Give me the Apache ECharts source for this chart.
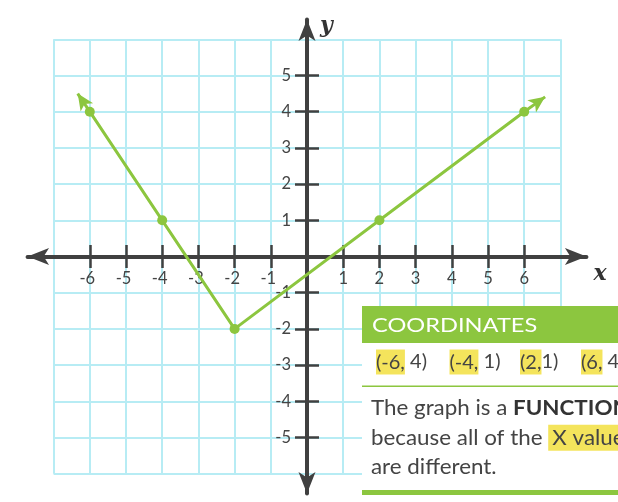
<!DOCTYPE html>
<html>
<head>
<meta charset="utf-8">
<script src="https://cdn.jsdelivr.net/npm/echarts@6/dist/echarts.min.js"></script>
<style>
html,body{margin:0;padding:0;background:#ffffff;}
#c{width:618px;height:502px;}
</style>
</head>
<body>
<div id="c"></div>
<script>
// ---- data ----
const xTicks = [-6, -5, -4, -3, -2, -1, 1, 2, 3, 4, 5, 6];
const yTicks = [-5, -4, -3, -2, -1, 1, 2, 3, 4, 5];
const gridX = [-7, 7];
const gridY = [-6, 6];
const pointsX = [-6, -4, -2, 2, 6];
const pointsY = [4, 1, -2, 1, 4];
const arrowFrom = [[-6, 4], [6, 4]];
const arrowTo = [[-6.334, 4.50], [6.578, 4.41]];
const coordLabels = ['(-6, 4)', '(-4, 1)', '(2,1)', '(6, 4)'];
const axisNames = ['x', 'y'];

// ---- layout ----
const U = 36.2, OX = 307, OY = 256.5;
const XE = 7.72, YE = 6.55;
const GREEN = '#8cc63f', AXIS = '#404040', TEXT = '#444444', BLUE = '#b7ecf4', YELLOW = '#f4e45c';

const chart = echarts.init(document.getElementById('c'), null, {renderer: 'canvas'});

const tickStyle = {color: AXIS, width: 2.5};
const labelStyle = {color: TEXT, fontFamily: 'Lato', fontSize: 16.5};
const nameStyle = {color: '#333', fontFamily: 'DejaVu Serif', fontWeight: 'bold', fontStyle: 'italic', fontSize: 22};

const coordX = [376, 449.5, 520, 581];
const coordGraphics = coordLabels.map(function (s, i) {
  const k = s.indexOf(',') + 1;
  return {
    type: 'text', x: coordX[i], y: 362, z: 110,
    style: {
      text: '{h|' + s.slice(0, k) + '}{n|' + s.slice(k) + '}',
      verticalAlign: 'middle',
      rich: {
        h: {font: '20px Lato', fill: TEXT, backgroundColor: YELLOW, padding: [3, 0, 2, 0]},
        n: {font: '20px Lato', fill: TEXT}
      }
    }
  };
});

const option = {
  backgroundColor: '#ffffff',
  animation: false,
  grid: [
    {left: OX + gridX[0] * U, top: OY - gridY[1] * U, width: (gridX[1] - gridX[0]) * U, height: (gridY[1] - gridY[0]) * U, outerBoundsMode: 'none', containLabel: false},
    {left: OX - XE * U, top: OY - YE * U, width: 2 * XE * U, height: 2 * YE * U, outerBoundsMode: 'none', containLabel: false}
  ],
  xAxis: [
    {type: 'value', gridIndex: 0, min: gridX[0], max: gridX[1], interval: 1, z: 0,
      axisLine: {show: false}, axisTick: {show: false}, axisLabel: {show: false},
      splitLine: {show: true, lineStyle: {color: BLUE, width: 2}}},
    {type: 'value', gridIndex: 1, min: -XE, max: XE, position: 'bottom', offset: -YE * U, z: 1,
      axisLine: {show: true, onZero: false, symbol: ['arrow', 'arrow'], symbolSize: [12.75, 21.5], lineStyle: {color: AXIS, width: 4}},
      axisTick: {show: true, customValues: xTicks, length: 11.5, lineStyle: tickStyle},
      axisLabel: Object.assign({
        show: true, customValues: xTicks, margin: 14,
        formatter: function (v) { return v < 0 ? '{neg|' + v + '}' : String(v); },
        rich: {neg: {padding: [0, 5, 0, 0]}}
      }, labelStyle),
      splitLine: {show: false},
      name: axisNames[0], nameLocation: 'end', nameGap: 7, nameMoveOverlap: false,
      nameTextStyle: Object.assign({align: 'left', verticalAlign: 'top', padding: [7, 0, 0, 0]}, nameStyle)},
    {type: 'value', gridIndex: 1, min: -XE, max: XE, position: 'top', offset: -YE * U, z: 1,
      axisLine: {show: false, onZero: false},
      axisTick: {show: true, customValues: xTicks, length: 11.5, lineStyle: tickStyle},
      axisLabel: {show: false}, splitLine: {show: false}}
  ],
  yAxis: [
    {type: 'value', gridIndex: 0, min: gridY[0], max: gridY[1], interval: 1, z: 0,
      axisLine: {show: false}, axisTick: {show: false}, axisLabel: {show: false},
      splitLine: {show: true, lineStyle: {color: BLUE, width: 2}}},
    {type: 'value', gridIndex: 1, min: -YE, max: YE, position: 'left', offset: -XE * U, z: 1,
      axisLine: {show: true, onZero: false, symbol: ['arrow', 'arrow'], symbolSize: [12.75, 21.5], lineStyle: {color: AXIS, width: 4}},
      axisTick: {show: true, customValues: yTicks, length: 12, lineStyle: tickStyle},
      axisLabel: Object.assign({show: true, customValues: yTicks, margin: 16}, labelStyle),
      splitLine: {show: false},
      name: axisNames[1], nameLocation: 'end', nameGap: -7, nameMoveOverlap: false,
      nameTextStyle: Object.assign({align: 'left', verticalAlign: 'middle', padding: [0, 0, 0, 13]}, nameStyle)},
    {type: 'value', gridIndex: 1, min: -YE, max: YE, position: 'right', offset: -XE * U, z: 1,
      axisLine: {show: false, onZero: false},
      axisTick: {show: true, customValues: yTicks, length: 12, lineStyle: tickStyle},
      axisLabel: {show: false}, splitLine: {show: false}}
  ],
  series: [{
    type: 'line', xAxisIndex: 0, yAxisIndex: 0, z: 5,
    data: pointsX.map(function (x, i) { return [x, pointsY[i]]; }),
    symbol: 'circle', symbolSize: 10, showSymbol: true,
    itemStyle: {color: GREEN}, lineStyle: {color: GREEN, width: 3},
    emphasis: {disabled: true},
    markLine: {
      silent: true, animation: false,
      symbol: ['none', 'arrow'], symbolSize: [11.25, 16.5],
      label: {show: false},
      emphasis: {disabled: true},
      lineStyle: {color: GREEN, width: 3, type: 'solid'},
      data: arrowFrom.map(function (p, i) { return [{coord: p}, {coord: arrowTo[i]}]; })
    }
  }],
  graphic: [
    {type: 'rect', z: 100, shape: {x: 362, y: 306, width: 256, height: 196}, style: {fill: '#ffffff'}},
    {type: 'rect', z: 101, shape: {x: 362, y: 306, width: 256, height: 37}, style: {fill: GREEN}},
    {type: 'text', z: 102, x: 372, y: 325.5, scaleX: 1.18, style: {text: 'COORDINATES', fill: '#ffffff', font: '20px Lato', verticalAlign: 'middle'}},
    {type: 'rect', z: 101, shape: {x: 362, y: 385.5, width: 256, height: 1.5}, style: {fill: GREEN}},
    {type: 'text', z: 102, x: 371, y: 393.5, scaleX: 1.04, style: {
      text: '{n|The graph is a }{b|FUNCTION}\n{n|because all of the }{h|X values}\n{n|are different.}',
      verticalAlign: 'top',
      rich: {
        n: {font: '21.5px Lato', fill: TEXT, lineHeight: 29.5},
        b: {font: 'bold 21.5px Lato', fill: '#333', lineHeight: 29.5},
        h: {font: '21.5px Lato', fill: TEXT, lineHeight: 29.5, backgroundColor: YELLOW, padding: [2, 4, 2, 4]}
      }
    }},
    {type: 'rect', z: 101, shape: {x: 362, y: 490, width: 256, height: 5}, style: {fill: GREEN}}
  ].concat(coordGraphics)
};

chart.setOption(option);
</script>
</body>
</html>
